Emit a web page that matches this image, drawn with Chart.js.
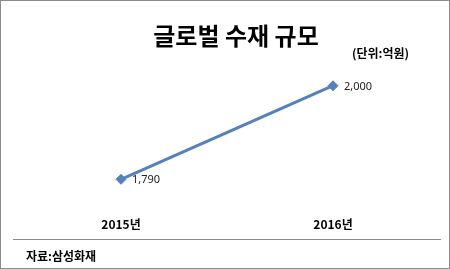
<!DOCTYPE html>
<html>
<head>
<meta charset="utf-8">
<script src="https://cdn.jsdelivr.net/npm/chart.js@4/dist/chart.umd.min.js"></script>
<style>
  html, body { margin: 0; padding: 0; background: #fff; }
  #wrap { position: relative; width: 450px; height: 269px; box-sizing: border-box; border: 1px solid #8c8c8c; overflow: hidden;
          font-family: "Noto Sans CJK KR", "Noto Sans", sans-serif; }
  #chart-box { position: absolute; left: 0; top: 0; width: 450px; height: 247px; }
  #title { position: absolute; left: 0; width: 470px; top: 16px; text-align: center; font-size: 24px; font-weight: 700; color: #000; }
  #unit { position: absolute; left: 351px; top: 43px; font-size: 12px; font-weight: 700; color: #000; }
  #sep { position: absolute; left: 12px; width: 428px; top: 238px; height: 0; border-top: 1px solid #8a8a8a; }
  #source { position: absolute; left: 25px; top: 246px; font-size: 12px; font-weight: 700; color: #000; }
</style>
</head>
<body>
<div id="wrap">
  <div id="chart-box"><canvas id="c"></canvas></div>
  <div id="title">글로벌 수재 규모</div>
  <div id="unit">(단위:억원)</div>
  <div id="sep"></div>
  <div id="source">자료:삼성화재</div>
</div>
<script>
  const years = ["2015년", "2016년"];
  const amounts = [1790, 2000];
  const yMin = 1740;
  const yMax = 2060;

  const pointLabels = {
    id: "pointLabels",
    afterDatasetsDraw(chart) {
      const ctx = chart.ctx;
      const meta = chart.getDatasetMeta(0);
      ctx.save();
      ctx.font = '11px "Noto Sans", "Liberation Sans", sans-serif';
      ctx.fillStyle = "#222";
      ctx.textBaseline = "middle";
      ctx.textAlign = "left";
      meta.data.forEach((pt, i) => {
        ctx.fillText(amounts[i].toLocaleString("en-US"), pt.x + 11, pt.y + 1);
      });
      ctx.restore();
    }
  };

  new Chart(document.getElementById("c"), {
    type: "line",
    data: {
      labels: years,
      datasets: [{
        data: amounts,
        borderColor: "#5580b8",
        backgroundColor: "#5580b8",
        borderWidth: 3,
        pointStyle: "rectRot",
        pointRadius: 5,
        pointBorderWidth: 1,
        tension: 0
      }]
    },
    options: {
      responsive: true,
      maintainAspectRatio: false,
      animation: false,
      layout: { padding: { left: 120, right: 118, top: 58, bottom: 0 } },
      plugins: { legend: { display: false }, title: { display: false }, tooltip: { enabled: false } },
      scales: {
        x: {
          offset: false,
          grid: { display: false, drawTicks: false },
          border: { display: false },
          ticks: { padding: 16, color: "#000", font: { family: '"Noto Sans CJK KR", sans-serif', size: 12, weight: "bold" } }
        },
        y: { display: false, min: yMin, max: yMax }
      }
    },
    plugins: [pointLabels]
  });
</script>
</body>
</html>
